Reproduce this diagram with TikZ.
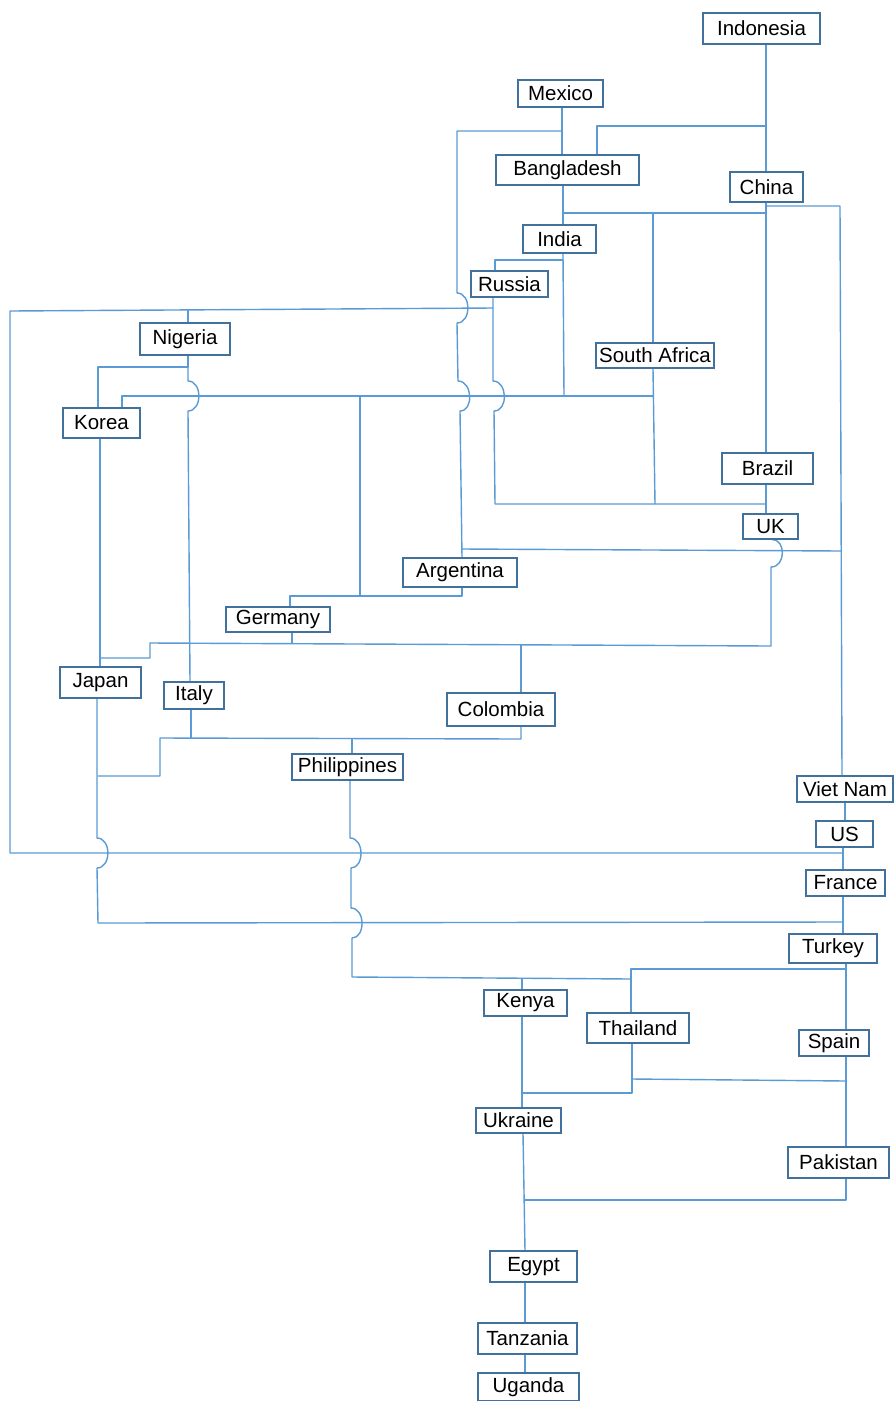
\documentclass[tikz,border=0pt]{standalone}
\usepackage{fontspec}
\setmainfont{Liberation Sans}
\usetikzlibrary{backgrounds}
\definecolor{lnc}{RGB}{91,155,213}
\definecolor{bxc}{RGB}{65,113,156}
\begin{document}
\begin{tikzpicture}[x=1pt,y=-1pt,
 ln/.style={draw=lnc, line width=1.4pt, line join=round},
 cbox/.style={draw=bxc, line width=1.4pt, fill=white, inner sep=0pt,
   font=\fontsize{20.5}{24}\selectfont, text=black}]
\useasboundingbox (0,0) rectangle (895,1401);
% ---------------- nodes ----------------
\node[cbox,minimum width=117,minimum height=31] (indonesia) at (761.5,28.5) {Indonesia};
\node[cbox,minimum width=85,minimum height=27] (mexico) at (560.5,93.5) {Mexico};
\node[cbox,minimum width=143,minimum height=30] (bangladesh) at (567.5,170) {Bangladesh};
\node[cbox,minimum width=73,minimum height=30] (china) at (766.5,187) {China};
\node[cbox,minimum width=73,minimum height=28] (india) at (559.5,239) {India};
\node[cbox,minimum width=77,minimum height=26] (russia) at (509.5,284) {Russia};
\node[cbox,minimum width=90,minimum height=32] (nigeria) at (185,339) {Nigeria};
\node[cbox,minimum width=77,minimum height=30] (korea) at (101.5,423) {Korea};
\node[cbox,minimum width=118,minimum height=25] (southafrica) at (655,355.5) {South Africa};
\node[cbox,minimum width=91,minimum height=31] (brazil) at (767.5,468.5) {Brazil};
\node[cbox,minimum width=55,minimum height=25] (uk) at (770.5,526.5) {UK};
\node[cbox,minimum width=114,minimum height=29] (argentina) at (460,572.5) {Argentina};
\node[cbox,minimum width=104,minimum height=25] (germany) at (278,619.5) {Germany};
\node[cbox,minimum width=81,minimum height=31] (japan) at (100.5,682.5) {Japan};
\node[cbox,minimum width=60,minimum height=27] (italy) at (194,695.5) {Italy};
\node[cbox,minimum width=108,minimum height=33] (colombia) at (501,709.5) {Colombia};
\node[cbox,minimum width=111,minimum height=26] (philippines) at (347.5,767) {Philippines};
\node[cbox,minimum width=96,minimum height=26] (vietnam) at (845,789) {Viet Nam};
\node[cbox,minimum width=57,minimum height=26] (us) at (844.5,834) {US};
\node[cbox,minimum width=79,minimum height=26] (france) at (845.5,883) {France};
\node[cbox,minimum width=88,minimum height=29] (turkey) at (833,948.5) {Turkey};
\node[cbox,minimum width=83,minimum height=26] (kenya) at (525.5,1003) {Kenya};
\node[cbox,minimum width=102,minimum height=30] (thailand) at (638,1028) {Thailand};
\node[cbox,minimum width=70,minimum height=26] (spain) at (834,1043) {Spain};
\node[cbox,minimum width=85,minimum height=25] (ukraine) at (518.5,1120.5) {Ukraine};
\node[cbox,minimum width=101,minimum height=31] (pakistan) at (838.5,1162.5) {Pakistan};
\node[cbox,minimum width=87,minimum height=31] (egypt) at (533.5,1266.5) {Egypt};
\node[cbox,minimum width=99,minimum height=31] (tanzania) at (527.5,1338.5) {Tanzania};
\node[cbox,minimum width=101,minimum height=28] (uganda) at (528.5,1387) {Uganda};
% ---------------- connectors ----------------
\begin{pgfonlayer}{background}
\fill[white] (0,0) rectangle (895,1401);
\draw[ln] (766,0 |- indonesia.south) -- (766,0 |- china.north);
\draw[ln] (766,126) -- (597,126) -- (597,0 |- bangladesh.north);
\draw[ln] (562,0 |- mexico.south) -- (562,0 |- bangladesh.north);
\draw[ln] (562,131) -- (457,131) -- (457,293) .. controls (471.5,293) and (471.5,323) .. (457,323)
   -- (458,381) .. controls (472.5,381) and (474,411) .. (460,411) -- (462,0 |- argentina.north);
\draw[ln] (462,0 |- argentina.south) -- (462,596) -- (290,596) -- (290,0 |- germany.north);
\draw[ln] (462,549) -- (842,551);
\draw[ln] (360,396) -- (360,596);
\draw[ln] (563,0 |- bangladesh.south) -- (563,0 |- india.north);
\draw[ln] (563,213) -- (766,213);
\draw[ln] (653,213) -- (653,0 |- southafrica.north);
\draw[ln] (653,0 |- southafrica.south) -- (655,504);
\draw[ln] (766,0 |- china.south) -- (766,0 |- brazil.north);
\draw[ln] (766,0 |- brazil.south) -- (766,0 |- uk.north);
\draw[ln] (766,206) -- (840,206) -- (842,0 |- vietnam.north);
\draw[ln] (563,0 |- india.south) -- (564,396);
\draw[ln] (563,260) -- (495,260) -- (495,0 |- russia.north);
\draw[ln] (493,0 |- russia.south) -- (493,381) .. controls (507.5,381) and (508.5,411) .. (494,411)
   -- (495,504) -- (766,504);
\draw[ln] (493,308) -- (10,311) -- (10,853) -- (843,853);
\draw[ln] (188,310) -- (188,0 |- nigeria.north);
\draw[ln] (188,0 |- nigeria.south) -- (188,367) -- (98,367) -- (98,0 |- korea.north);
\draw[ln] (188,367) -- (188,381) .. controls (202.5,381) and (202.5,411) .. (188,411) -- (190,0 |- italy.north);
\draw[ln] (122,0 |- korea.north) -- (122,396) -- (653,396);
\draw[ln] (100,0 |- korea.south) -- (100,0 |- japan.north);
\draw[ln] (100,658) -- (150,658) -- (150,643) -- (771,646) -- (771,567)
   .. controls (786,567) and (786,539) .. (772,0 |- uk.south);
\draw[ln] (292,0 |- germany.south) -- (292,644);
\draw[ln] (521,645) -- (521,0 |- colombia.north);
\draw[ln] (521,0 |- colombia.south) -- (521,739) -- (160,738) -- (160,776) -- (98,776);
\draw[ln] (191,0 |- italy.south) -- (191,738);
\draw[ln] (352,738) -- (352,0 |- philippines.north);
\draw[ln] (97,0 |- japan.south) -- (97,838) .. controls (111.5,838) and (111.5,868) .. (97,868)
   -- (98,923) -- (843,922);
\draw[ln] (350,0 |- philippines.south) -- (350,838) .. controls (364.5,838) and (364.5,868) .. (351,868)
   -- (351,908) .. controls (365.5,908) and (365.5,938) .. (352,938) -- (352,977) -- (631,979);
\draw[ln] (845,0 |- vietnam.south) -- (845,0 |- us.north);
\draw[ln] (843,0 |- us.south) -- (843,0 |- france.north);
\draw[ln] (843,0 |- france.south) -- (843,0 |- turkey.north);
\draw[ln] (846,0 |- turkey.south) -- (846,0 |- spain.north);
\draw[ln] (846,969) -- (631,969) -- (631,0 |- thailand.north);
\draw[ln] (522,978) -- (522,0 |- kenya.north);
\draw[ln] (522,0 |- kenya.south) -- (522,0 |- ukraine.north);
\draw[ln] (522,1093) -- (632,1093) -- (632,0 |- thailand.south);
\draw[ln] (632,1079) -- (846,1081);
\draw[ln] (846,0 |- spain.south) -- (846,0 |- pakistan.north);
\draw[ln] (523,0 |- ukraine.south) -- (525,0 |- egypt.north);
\draw[ln] (846,0 |- pakistan.south) -- (846,1200) -- (525,1200);
\draw[ln] (525,0 |- egypt.south) -- (525,0 |- tanzania.north);
\draw[ln] (525,0 |- tanzania.south) -- (525,0 |- uganda.north);
\end{pgfonlayer}
\end{tikzpicture}
\end{document}
